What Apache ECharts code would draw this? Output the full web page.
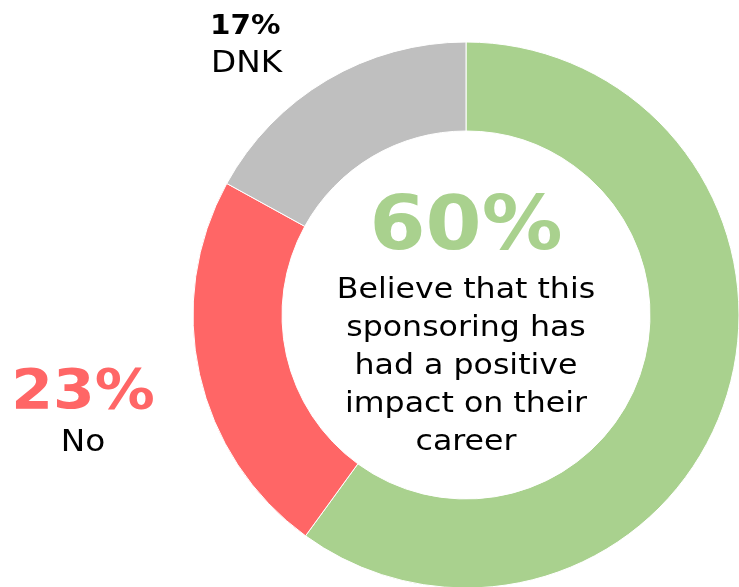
<!DOCTYPE html>
<html>
<head>
<meta charset="utf-8">
<script src="https://cdn.jsdelivr.net/npm/echarts@6/dist/echarts.min.js"></script>
<style>
  html, body { margin: 0; padding: 0; background: #fff; }
  #chart { width: 739px; height: 587px; }
</style>
</head>
<body>
<div id="chart"></div>
<script>
// Survey answers: has sponsoring had a positive impact on their career?
const categories = ['Yes', 'No', 'DNK'];
const values = [60, 23, 17];
const colors = ['#A9D18E', '#FF6666', '#BFBFBF'];
const headline = 'Believe that this\nsponsoring has\nhad a positive\nimpact on their\ncareer';

const FONT = 'DejaVu Sans';
const WIDEN = 1.09;          // slightly wider lettering
const chart = echarts.init(document.getElementById('chart'), null, { renderer: 'canvas' });

const pct = i => values[i] + '%';

// text placed by its baseline (approx. 0.8 em below the top of the line box)
function label(text, x, baseline, size, weight, color, align, lineHeight) {
  const lh = lineHeight || size;
  const top = baseline - (lh - size) / 2 - 0.8 * size;
  return {
    type: 'text', x: x, y: top, scaleX: WIDEN, silent: true,
    style: {
      text: text, x: 0, y: 0, align: align || 'center', verticalAlign: 'top',
      font: weight + ' ' + size + 'px "' + FONT + '"', lineHeight: lh, fill: color
    }
  };
}

chart.setOption({
  animation: false,
  series: [{
    type: 'pie',
    center: [466, 315],
    radius: [184, 273],
    startAngle: 90,
    clockwise: true,
    silent: true,
    label: { show: false },
    labelLine: { show: false },
    itemStyle: { borderColor: '#fff', borderWidth: 1 },
    data: categories.map((c, i) => ({ name: c, value: values[i], itemStyle: { color: colors[i] } }))
  }],
  graphic: [
    // centre caption for the "Yes" share
    label(pct(0), 466, 252, 74, 'bold', colors[0]),
    label(headline, 466, 299, 29, 'normal', '#000', 'center', 38),
    // "No" share, left of the ring
    label(pct(1), 83, 410, 55, 'bold', colors[1]),
    label(categories[1], 83, 452, 30, 'normal', '#000'),
    // "DNK" share, above the ring
    label(pct(2), 210, 35, 27, 'bold', '#000', 'left'),
    label(categories[2], 211, 73, 30, 'normal', '#000', 'left')
  ]
});
</script>
</body>
</html>
